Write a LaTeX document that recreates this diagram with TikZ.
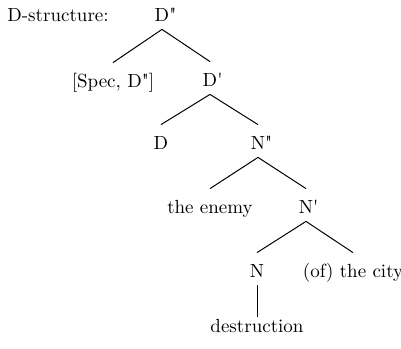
\documentclass[tikz,border=0pt]{standalone}
\usepackage{fontspec}

\tikzset{
    cat/.style={anchor=base, inner xsep=0pt, inner ysep=2pt, text height=10pt, text depth=2pt},
    branch/.style={draw=black, line width=0.5pt},
}
\newcommand{\maxproj}[1]{#1\rlap{\textquotedbl}}
\newcommand{\interproj}[1]{#1\rlap{\textquotesingle}}

\begin{document}
\begin{tikzpicture}[x=0.5pt, y=-0.5pt, font=\fontsize{9.5}{11}\selectfont]

    \useasboundingbox (0,0) rectangle (401,348);

    % title
    \node[anchor=base west, inner sep=0pt] (title) at (7,21) {D-structure:};

    % D projection
    \node[cat] (dpp) at (162,21) {\maxproj{D}};
    \node[cat] (spec) at (113,87) {[Spec, D\textquotedbl]};
    \node[cat] (dp) at (210,86) {\interproj{D}};
    \node[cat] (d) at (161,149) {D};

    % N projection
    \node[cat] (npp) at (258,149) {\maxproj{N}};
    \node[cat] (enemy) at (210,213) {the enemy};
    \node[cat] (np) at (306,213) {\interproj{N}};
    \node[cat] (n) at (257,277) {N};
    \node[cat] (city) at (353,277) {(of) the city};
    \node[cat] (destr) at (257,332) {destruction};

    % branches
    \draw[branch] (dpp.south) -- (spec.north);
    \draw[branch] (dpp.south) -- (dp.north);
    \draw[branch] (dp.south) -- (d.north);
    \draw[branch] (dp.south) -- (npp.north);
    \draw[branch] (npp.south) -- (enemy.north);
    \draw[branch] (npp.south) -- (np.north);
    \draw[branch] (np.south) -- (n.north);
    \draw[branch] (np.south) -- (city.north);
    \draw[branch, shorten >=-4.5pt] (n.south) -- (destr.north);

\end{tikzpicture}
\end{document}
